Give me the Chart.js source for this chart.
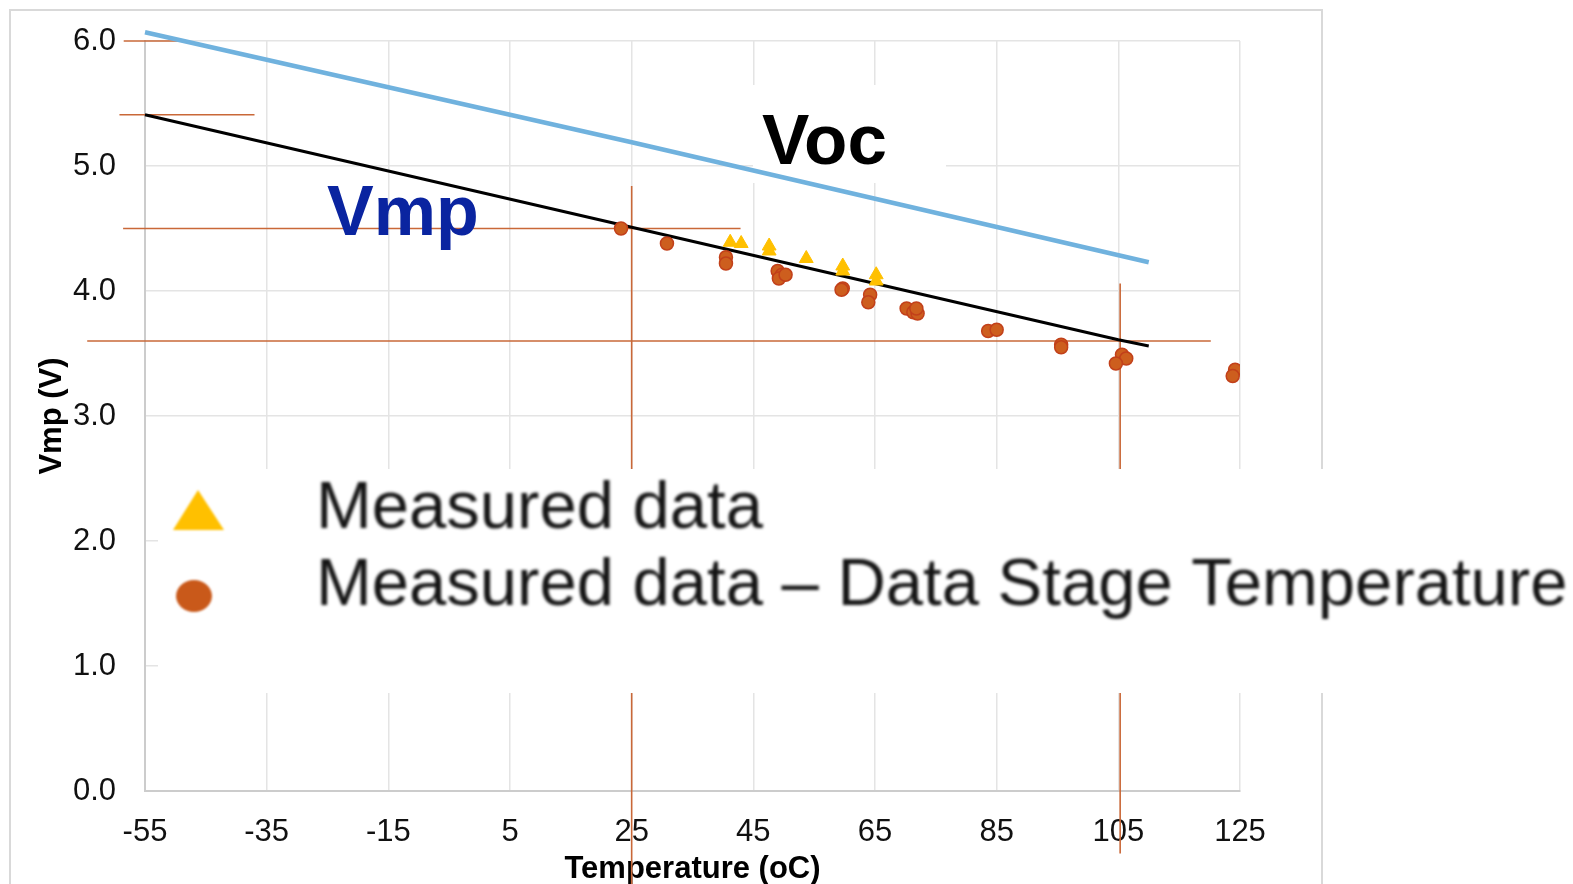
<!DOCTYPE html>
<html><head><meta charset="utf-8">
<script src="https://cdn.jsdelivr.net/npm/chart.js@4.4.1/dist/chart.umd.min.js"></script>
<style>html,body{margin:0;padding:0;background:#fff;overflow:hidden}canvas{display:block}</style>
</head><body>
<canvas id="c" width="1573" height="884"></canvas>
<script>
// ---- data ----
const xTickValues = [-55, -35, -15, 5, 25, 45, 65, 85, 105, 125];
const yTickValues = [0, 1, 2, 3, 4, 5, 6];

const vocTemp = [-55, 25, 110];
const vocVolt = [6.07, 5.19, 4.23];

const vmpTemp = [-55, 25, 105, 110];
const vmpVolt = [5.41, 4.51, 3.61, 3.56];

const triTemp = [41.2, 43.0, 47.6, 47.6, 53.7, 59.7, 59.7, 65.2, 65.2];
const triVolt = [4.39, 4.38, 4.36, 4.32, 4.26, 4.20, 4.16, 4.13, 4.08];

const dotTemp = [23.25, 30.8, 40.5, 40.5, 49.0, 49.7, 49.2, 50.3, 59.7, 59.5, 64.2, 63.9,
                 70.2, 71.3, 72.0, 71.8, 83.6, 85.0, 95.6, 95.6, 105.6, 106.3, 104.6, 124.2, 123.8];
const dotVolt = [4.50, 4.38, 4.27, 4.22, 4.16, 4.13, 4.10, 4.13, 4.02, 4.01, 3.97, 3.91,
                 3.86, 3.83, 3.82, 3.86, 3.68, 3.69, 3.57, 3.55, 3.49, 3.46, 3.42, 3.37, 3.32];

// guide (cross-hair) lines
const guideHVolt = [6.0, 5.41, 4.5, 3.6];
const guideHFrom = [-58.5, -59.2, -58.6, -64.5];
const guideHTo   = [-49.5, -37.0, 42.9, 120.2];
const guideVTemp = [25, 105.3];
const guideVFrom = [4.84, 4.06];
const guideVTo   = [-0.78, -0.5];

const legendLabels = ['Measured data', 'Measured data \u2013 Data Stage Temperature'];
const lineLabels = ['Voc', 'Vmp'];

// ---- build ----
const FONT = "'Liberation Sans', Arial, Helvetica, sans-serif";
const pts = (xs, ys) => xs.map((x, i) => ({x, y: ys[i]}));
const guideColor = '#C96838';

const datasets = [
  {label: 'tri', data: pts(triTemp, triVolt), pointStyle: 'triangle', pointRadius: 8,
   backgroundColor: '#FFC000', borderColor: '#FFC000', borderWidth: 1, showLine: false},
  {label: 'dot', data: pts(dotTemp, dotVolt), pointStyle: 'circle', pointRadius: 6.5,
   backgroundColor: '#CD5E1E', borderColor: '#C2401A', borderWidth: 1.5, showLine: false},
  {label: 'Vmp', data: pts(vmpTemp, vmpVolt), showLine: true, borderColor: '#000', borderWidth: 3,
   pointRadius: 0, fill: false, clip: false},
  {label: 'Voc', data: pts(vocTemp, vocVolt), showLine: true, borderColor: '#70B2DE', borderWidth: 4.5,
   pointRadius: 0, fill: false, clip: false},
];
guideHVolt.forEach((v, i) => datasets.push({
  label: 'gh' + i, data: [{x: guideHFrom[i], y: v}, {x: guideHTo[i], y: v}], showLine: true,
  borderColor: guideColor, borderWidth: 1.6, pointRadius: 0, clip: false}));
guideVTemp.forEach((t, i) => datasets.push({
  label: 'gv' + i, data: [{x: t, y: guideVFrom[i]}, {x: t, y: guideVTo[i]}], showLine: true,
  borderColor: guideColor, borderWidth: 1.6, pointRadius: 0, clip: false}));

const framePlugin = {
  id: 'frame',
  beforeDraw(chart) {
    const ctx = chart.ctx;
    ctx.save();
    ctx.fillStyle = '#fff';
    ctx.fillRect(0, 0, chart.width, chart.height);
    ctx.strokeStyle = '#D9D9D9';
    ctx.lineWidth = 2;
    ctx.strokeRect(10, 10, 1312, 900);
    ctx.restore();
  },
  beforeDatasetsDraw(chart) {
    const ctx = chart.ctx;
    ctx.save();
    // white background behind the Voc label
    ctx.fillStyle = '#fff';
    ctx.fillRect(753, 85, 193, 98);
    ctx.fillStyle = '#000';
    ctx.font = 'bold 71px ' + FONT;
    ctx.textBaseline = 'alphabetic';
    ctx.fillText(lineLabels[0], 762, 164);
    ctx.restore();
  },
  afterDatasetsDraw(chart) {
    const ctx = chart.ctx;
    ctx.save();
    ctx.fillStyle = '#0A24A0';
    ctx.font = 'bold 70px ' + FONT;
    ctx.textBaseline = 'alphabetic';
    ctx.fillText(lineLabels[1], 327, 235);

    // legend panel
    ctx.fillStyle = '#fff';
    ctx.fillRect(158, 469, chart.width - 158, 224);
    ctx.filter = 'blur(1px)';
    ctx.fillStyle = '#FFC000';
    ctx.beginPath();
    ctx.moveTo(198, 490); ctx.lineTo(224, 530); ctx.lineTo(173, 530); ctx.closePath();
    ctx.fill();
    ctx.fillStyle = '#C9591A';
    ctx.beginPath();
    ctx.ellipse(194, 596, 18, 16, 0, 0, Math.PI * 2);
    ctx.fill();
    ctx.filter = 'blur(1.5px)';
    ctx.fillStyle = '#141414';
    ctx.font = '67px ' + FONT;
    ctx.fillText(legendLabels[0], 316, 528);
    ctx.fillText(legendLabels[1], 316, 605);
    ctx.restore();
  }
};

new Chart(document.getElementById('c'), {
  type: 'scatter',
  data: {datasets},
  plugins: [framePlugin],
  options: {
    responsive: false,
    devicePixelRatio: 1,
    animation: false,
    events: [],
    layout: {padding: {left: 0, top: 41, right: 333, bottom: 0}},
    plugins: {legend: {display: false}, tooltip: {enabled: false}},
    scales: {
      x: {
        type: 'linear', min: -55, max: 125,
        afterBuildTicks: s => { s.ticks = xTickValues.map(v => ({value: v})); },
        afterFit: s => { s.height = 93; },
        ticks: {font: {family: FONT, size: 31}, color: '#111', padding: 23, maxRotation: 0,
                autoSkip: false, callback: v => String(v)},
        grid: {color: '#E4E4E4', lineWidth: 1.5, drawTicks: false},
        border: {color: '#CCCCCC', width: 2},
        title: {display: true, text: 'Temperature (oC)', color: '#000',
                font: {family: FONT, size: 31, weight: 'bold'}, padding: {top: 0, bottom: -4}}
      },
      y: {
        type: 'linear', min: 0, max: 6,
        afterBuildTicks: s => { s.ticks = yTickValues.map(v => ({value: v})); },
        afterFit: s => { s.width = 145; },
        ticks: {font: {family: FONT, size: 31}, color: '#111', padding: 20,
                callback: v => Number(v).toFixed(1)},
        grid: {color: '#E4E4E4', lineWidth: 1.5, drawTicks: true, tickLength: 9,
               tickColor: 'rgba(0,0,0,0)'},
        border: {color: '#CCCCCC', width: 2},
        title: {display: true, text: 'Vmp (V)', color: '#000',
                font: {family: FONT, size: 31, weight: 'bold'}, padding: {top: 34, bottom: 0}}
      }
    }
  }
});
</script>
</body></html>
